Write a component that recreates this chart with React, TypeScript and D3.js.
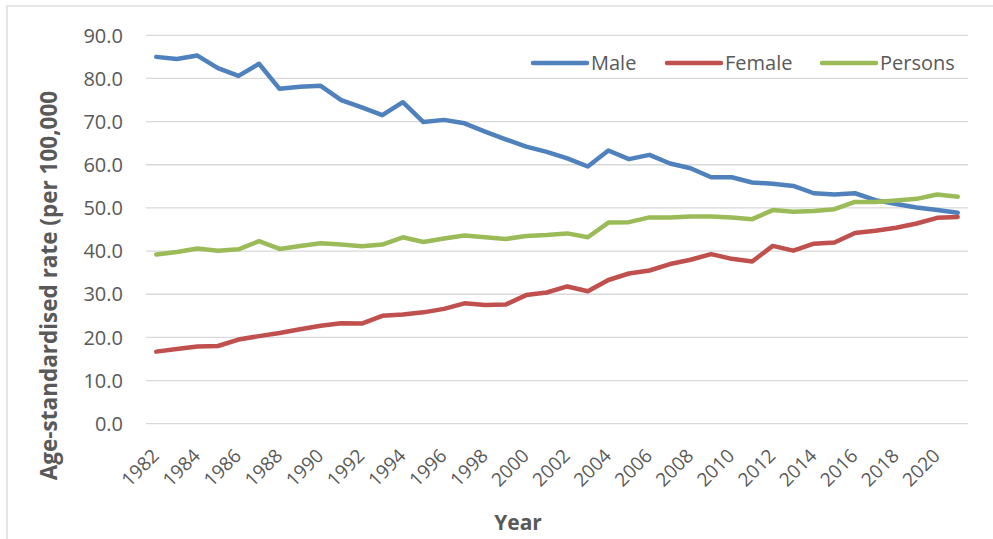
import React, { useEffect, useRef } from "react";
import * as d3 from "d3";

const years = d3.range(1982, 2022);
const tickYears = years.filter((y) => (y - 1982) % 2 === 0);
const yTicks = [0, 10, 20, 30, 40, 50, 60, 70, 80, 90];

const male = [
  85.0, 84.5, 85.3, 82.4, 80.6, 83.4, 77.6, 78.1, 78.3, 75.0,
  73.3, 71.5, 74.5, 69.9, 70.4, 69.6, 67.7, 65.9, 64.2, 63.0,
  61.5, 59.6, 63.3, 61.3, 62.3, 60.3, 59.2, 57.1, 57.1, 55.9,
  55.6, 55.1, 53.4, 53.1, 53.4, 51.8, 50.9, 50.1, 49.5, 48.9,
];
const female = [
  16.7, 17.3, 17.9, 18.0, 19.5, 20.3, 21.0, 21.9, 22.7, 23.3,
  23.2, 25.0, 25.3, 25.8, 26.6, 27.9, 27.5, 27.6, 29.8, 30.4,
  31.8, 30.7, 33.3, 34.8, 35.5, 37.0, 38.0, 39.3, 38.2, 37.6,
  41.2, 40.1, 41.7, 42.0, 44.2, 44.7, 45.4, 46.4, 47.7, 47.9,
];
const persons = [
  39.2, 39.8, 40.6, 40.1, 40.4, 42.3, 40.5, 41.2, 41.8, 41.5,
  41.1, 41.5, 43.2, 42.1, 42.9, 43.6, 43.2, 42.8, 43.5, 43.7,
  44.1, 43.2, 46.6, 46.7, 47.8, 47.8, 48.0, 48.0, 47.8, 47.4,
  49.5, 49.1, 49.3, 49.7, 51.4, 51.4, 51.7, 52.1, 53.1, 52.6,
];

const seriesNames = ["Male", "Female", "Persons"];
const seriesValues = [male, female, persons];
const colors = ["#4F81BD", "#C0504D", "#9BBB59"];

const W = 993;
const H = 539;
const font = "'Open Sans', sans-serif";

export default function App() {
  const svgRef = useRef<SVGSVGElement | null>(null);

  useEffect(() => {
    if (!svgRef.current) return;
    const svg = d3.select(svgRef.current);
    svg.selectAll("*").remove();

    const x = d3.scalePoint<number>().domain(years).range([146, 968]).padding(0.5);
    const y = d3.scaleLinear().domain([0, 90]).range([423.7, 35.3]);

    // chart frame (only top and left show in the crop)
    svg.append("rect")
      .attr("x", 7).attr("y", 6)
      .attr("width", 1000).attr("height", 600)
      .attr("fill", "none").attr("stroke", "#D9D9D9").attr("stroke-width", 1.3);

    // gridlines
    svg.append("g")
      .selectAll("line")
      .data(yTicks)
      .join("line")
      .attr("x1", 146).attr("x2", 968)
      .attr("y1", (d) => y(d)).attr("y2", (d) => y(d))
      .attr("stroke", "#D9D9D9").attr("stroke-width", 1.3);

    // y tick labels
    svg.append("g")
      .selectAll("text")
      .data(yTicks)
      .join("text")
      .attr("x", 123).attr("y", (d) => y(d))
      .attr("dy", "0.36em")
      .attr("text-anchor", "end")
      .attr("font-family", font).attr("font-size", 20)
      .attr("fill", "#595959")
      .text((d) => d.toFixed(1));

    // x tick labels
    svg.append("g")
      .selectAll("text")
      .data(tickYears)
      .join("text")
      .attr("transform", (d) => `translate(${(x(d) as number) + 4},457) rotate(-45)`)
      .attr("text-anchor", "end")
      .attr("font-family", font).attr("font-size", 19)
      .attr("fill", "#595959")
      .text((d) => String(d));

    // lines
    const line = d3.line<number>()
      .x((_, i) => x(years[i]) as number)
      .y((d) => y(d));

    seriesValues.forEach((vals, k) => {
      svg.append("path")
        .datum(vals)
        .attr("d", line)
        .attr("fill", "none")
        .attr("stroke", colors[k])
        .attr("stroke-width", 4.5)
        .attr("stroke-linejoin", "round")
        .attr("stroke-linecap", "round");
    });

    // legend
    const legendX = [533, 667, 822];
    const legend = svg.append("g");
    seriesNames.forEach((name, k) => {
      legend.append("line")
        .attr("x1", legendX[k]).attr("x2", legendX[k] + 54)
        .attr("y1", 63).attr("y2", 63)
        .attr("stroke", colors[k]).attr("stroke-width", 4.5)
        .attr("stroke-linecap", "round");
      legend.append("text")
        .attr("x", legendX[k] + 58).attr("y", 63)
        .attr("dy", "0.36em")
        .attr("font-family", font).attr("font-size", 20)
        .attr("fill", "#595959")
        .text(name);
    });

    // axis titles
    svg.append("text")
      .attr("transform", `translate(57,${(88 + 483) / 2}) rotate(-90)`)
      .attr("text-anchor", "middle")
      .attr("font-family", font).attr("font-size", 22.5)
      .attr("font-weight", "bold")
      .attr("fill", "#595959")
      .text("Age-standardised rate (per 100,000");

    svg.append("text")
      .attr("x", 518).attr("y", 530)
      .attr("text-anchor", "middle")
      .attr("font-family", font).attr("font-size", 21)
      .attr("font-weight", "bold")
      .attr("fill", "#595959")
      .text("Year");
  }, []);

  return (
    <svg
      ref={svgRef}
      width={W}
      height={H}
      style={{ position: "absolute", left: 0, top: 0, background: "#fff" }}
    />
  );
}
